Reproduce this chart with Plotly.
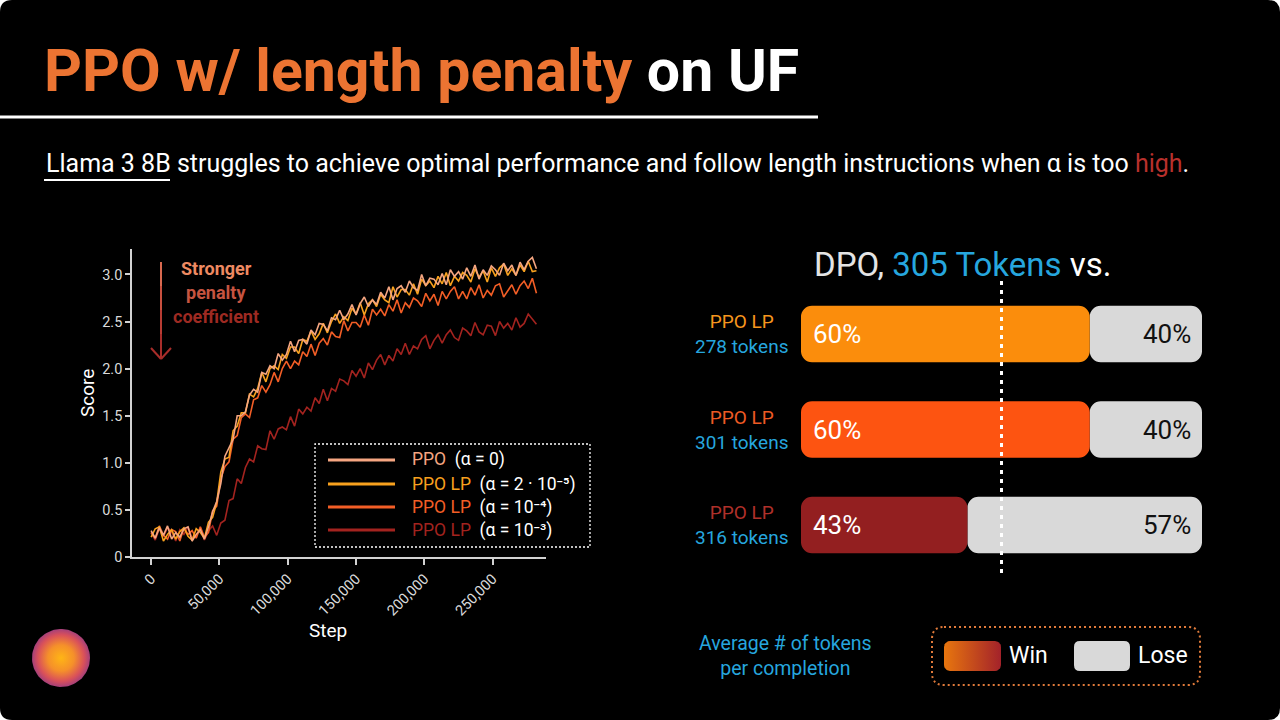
import math
import plotly.graph_objects as go

W, H = 1280, 720
FONT = "Roboto"

# ---------------- data: left line chart ----------------
STEP_INTERVAL = 3000
ppo = [0.28, 0.20, 0.31, 0.23, 0.33, 0.19, 0.26, 0.21, 0.30, 0.32, 0.17, 0.24, 0.29, 0.19,
       0.32, 0.48, 0.59, 0.78, 1.07, 1.16, 1.25, 1.50, 1.50, 1.54, 1.72, 1.78, 1.75, 1.96, 1.94, 2.03,
       2.00, 2.16, 2.09, 2.15, 2.29, 2.18, 2.30, 2.31, 2.26, 2.41, 2.36, 2.48, 2.47, 2.40, 2.54, 2.52,
       2.62, 2.52, 2.58, 2.68, 2.57, 2.69, 2.76, 2.66, 2.73, 2.68, 2.81, 2.75, 2.87, 2.73, 2.85, 2.88,
       2.81, 2.93, 2.86, 2.83, 3.00, 2.88, 2.96, 2.95, 2.89, 3.01, 2.89, 3.05, 2.98, 3.03, 2.95, 3.07,
       2.98, 3.10, 2.95, 3.05, 2.99, 3.09, 3.05, 2.99, 3.12, 3.04, 3.10, 2.99, 3.13, 3.05, 3.14, 3.18, 3.06]
lp_2e5 = [0.21, 0.30, 0.32, 0.17, 0.24, 0.29, 0.19, 0.27, 0.31, 0.22, 0.18, 0.30, 0.26, 0.20,
          0.37, 0.42, 0.58, 0.90, 1.04, 1.06, 1.34, 1.39, 1.53, 1.53, 1.73, 1.70, 1.79, 1.96, 1.86, 2.00,
          2.03, 1.99, 2.15, 2.11, 2.23, 2.23, 2.16, 2.31, 2.29, 2.40, 2.31, 2.37, 2.48, 2.38, 2.50, 2.58,
          2.48, 2.55, 2.51, 2.64, 2.58, 2.70, 2.57, 2.69, 2.73, 2.66, 2.79, 2.73, 2.70, 2.87, 2.76, 2.84,
          2.84, 2.78, 2.90, 2.79, 2.95, 2.88, 2.93, 2.86, 2.98, 2.90, 3.02, 2.88, 2.98, 2.93, 3.02, 2.99,
          2.92, 3.06, 2.97, 3.04, 2.92, 3.07, 2.98, 3.07, 3.11, 2.99, 3.06, 2.99, 3.10, 3.03, 3.14, 3.03, 3.04]
lp_1e4 = [0.26, 0.20, 0.33, 0.23, 0.19, 0.29, 0.27, 0.17, 0.31, 0.24, 0.28, 0.20, 0.32, 0.21,
          0.26, 0.49, 0.54, 0.83, 0.96, 1.01, 1.25, 1.29, 1.48, 1.52, 1.48, 1.67, 1.69, 1.82, 1.75, 1.83,
          1.96, 1.86, 2.00, 2.08, 2.00, 2.08, 2.04, 2.18, 2.13, 2.26, 2.14, 2.27, 2.32, 2.25, 2.39, 2.34,
          2.33, 2.51, 2.40, 2.49, 2.49, 2.44, 2.57, 2.46, 2.63, 2.57, 2.63, 2.56, 2.68, 2.61, 2.73, 2.59,
          2.70, 2.65, 2.75, 2.72, 2.66, 2.80, 2.72, 2.79, 2.67, 2.82, 2.74, 2.82, 2.87, 2.74, 2.82, 2.74,
          2.86, 2.78, 2.89, 2.75, 2.83, 2.78, 2.88, 2.90, 2.76, 2.83, 2.89, 2.79, 2.88, 2.93, 2.85, 2.96, 2.80]
lp_1e3 = [0.26, 0.18, 0.30, 0.22, 0.31, 0.27, 0.17, 0.29, 0.24, 0.32, 0.20, 0.23, 0.31, 0.18, 0.28, 0.33,
          0.23, 0.36, 0.39, 0.60, 0.62, 0.83, 0.78, 0.95, 1.04, 1.01, 1.18, 1.15, 1.14, 1.34, 1.25, 1.36,
          1.38, 1.35, 1.49, 1.39, 1.57, 1.52, 1.59, 1.55, 1.69, 1.63, 1.78, 1.66, 1.79, 1.76, 1.89, 1.87,
          1.83, 1.98, 1.92, 2.00, 1.90, 2.06, 1.99, 2.09, 2.15, 2.04, 2.14, 2.08, 2.21, 2.15, 2.27, 2.15,
          2.24, 2.21, 2.31, 2.35, 2.21, 2.30, 2.36, 2.27, 2.36, 2.41, 2.33, 2.30, 2.43, 2.40, 2.35, 2.49,
          2.39, 2.36, 2.46, 2.45, 2.35, 2.50, 2.43, 2.48, 2.41, 2.54, 2.44, 2.48, 2.58, 2.52, 2.47]

series_values = [ppo, lp_2e5, lp_1e4, lp_1e3]
series_names = ["PPO", "PPO LP", "PPO LP", "PPO LP"]
alpha_labels = ["(α = 0)", "(α = 2 · 10⁻⁵)", "(α = 10⁻⁴)", "(α = 10⁻³)"]
series_colors = ["#F5A681", "#F8A11E", "#F35E26", "#A3231F"]

x_tick_vals = [0, 50000, 100000, 150000, 200000, 250000]
x_tick_text = ["0", "50,000", "100,000", "150,000", "200,000", "250,000"]
y_tick_vals = [0, 0.5, 1.0, 1.5, 2.0, 2.5, 3.0]
y_tick_text = ["0", "0.5", "1.0", "1.5", "2.0", "2.5", "3.0"]

# ---------------- data: right bar chart ----------------
row_models = ["PPO LP", "PPO LP", "PPO LP"]
avg_tokens = [278, 301, 316]
win_pct_labels = [60, 60, 43]
lose_pct_labels = [40, 40, 57]
win_bar_extent = [72, 72, 41.5]          # win-segment length as drawn in the reference
row_colors = ["#FB8D0C", "#FD5411", "#931F20"]
row_label_colors = ["#F7961E", "#EE5A24", "#B0302A"]
dpo_tokens = 305
reference_line = 50
LOSE_COLOR = "#D9D9D9"
BLUE = "#26A6DE"


def paper(x, y):
    return x / W, 1 - y / H


def rr_path(x0, y0, x1, y1, r):
    def p(x, y):
        a, b = paper(x, y)
        return f"{a:.5f},{b:.5f}"
    return (f"M {p(x0 + r, y0)} L {p(x1 - r, y0)} Q {p(x1, y0)} {p(x1, y0 + r)} "
            f"L {p(x1, y1 - r)} Q {p(x1, y1)} {p(x1 - r, y1)} L {p(x0 + r, y1)} "
            f"Q {p(x0, y1)} {p(x0, y1 - r)} L {p(x0, y0 + r)} Q {p(x0, y0)} {p(x0 + r, y0)} Z")


def rr_points(x0, y0, x1, y1, r, n=10):
    xs, ys = [], []
    corners = [(x1 - r, y0 + r, -90, 0), (x1 - r, y1 - r, 0, 90),
               (x0 + r, y1 - r, 90, 180), (x0 + r, y0 + r, 180, 270)]
    for cx, cy, a0, a1 in corners:
        for k in range(n + 1):
            a = math.radians(a0 + (a1 - a0) * k / n)
            xs.append(cx + r * math.cos(a))
            ys.append(cy + r * math.sin(a))
    xs.append(xs[0]); ys.append(ys[0])
    return xs, ys


def ann(x, y, text, size, color, xanchor="center", yanchor="middle", bold=False, **kw):
    a, b = paper(x, y)
    d = dict(x=a, y=b, xref="paper", yref="paper", xanchor=xanchor, yanchor=yanchor,
             showarrow=False, text=f"<b>{text}</b>" if bold else text,
             font=dict(family=FONT, size=size, color=color))
    d.update(kw)
    return d


def pline(x0, y0, x1, y1, color, width, dash=None):
    a0, b0 = paper(x0, y0); a1, b1 = paper(x1, y1)
    ln = dict(color=color, width=width)
    if dash:
        ln["dash"] = dash
    return dict(type="line", xref="paper", yref="paper", x0=a0, y0=b0, x1=a1, y1=b1, line=ln)


fig = go.Figure()

# ---------------- left chart traces ----------------
for vals, name, alpha, col in reversed(list(zip(series_values, series_names, alpha_labels, series_colors))):
    steps = [i * STEP_INTERVAL for i in range(len(vals))]
    fig.add_trace(go.Scatter(x=steps, y=vals, mode="lines", name=name,
                             line=dict(color=col, width=1.6), xaxis="x", yaxis="y",
                             showlegend=False, hoverinfo="skip"))

# ---------------- right chart traces ----------------
rows = list(range(len(row_models)))
fig.add_trace(go.Bar(y=rows, x=[100 - w for w in win_bar_extent], base=win_bar_extent,
                     orientation="h", marker=dict(color=LOSE_COLOR, cornerradius=11, line=dict(width=0)),
                     width=0.59, xaxis="x2", yaxis="y2", showlegend=False, hoverinfo="skip"))
fig.add_trace(go.Bar(y=rows, x=[-w for w in win_bar_extent], base=win_bar_extent,
                     orientation="h", marker=dict(color=row_colors, cornerradius=11, line=dict(width=0)),
                     width=0.59, xaxis="x2", yaxis="y2", showlegend=False, hoverinfo="skip"))

# ---------------- decorations on a full-page pixel axis ----------------
sx, sy = rr_points(944, 641, 1001, 671, 6)
fig.add_trace(go.Scatter(x=sx, y=sy, mode="lines", fill="toself", line=dict(width=0),
                         fillgradient=dict(type="horizontal",
                                           colorscale=[[0, "#E8760E"], [1, "#A3222A"]]),
                         xaxis="x3", yaxis="y3", showlegend=False, hoverinfo="skip"))
cx, cy, cr = 61, 658, 29
ox = [cx + cr * math.cos(math.radians(a)) for a in range(0, 361, 4)]
oy = [cy + cr * math.sin(math.radians(a)) for a in range(0, 361, 4)]
fig.add_trace(go.Scatter(x=ox, y=oy, mode="lines", fill="toself", line=dict(width=0),
                         fillgradient=dict(type="radial",
                                           colorscale=[[0, "#FFB515"], [0.45, "#F5902A"],
                                                       [0.8, "#D9505A"], [1, "#A5407A"]]),
                         xaxis="x3", yaxis="y3", showlegend=False, hoverinfo="skip"))

shapes = []
annotations = []

# background rounded card
shapes.append(dict(type="path", path=rr_path(0, 0, W, H, 12), xref="paper", yref="paper",
                   fillcolor="black", line=dict(width=0), layer="below"))

# title + rule
annotations.append(ann(42, 71, "<b><span style='color:#EC7432'>PPO w/ length penalty</span> on UF</b>",
                       59, "white", xanchor="left"))
shapes.append(pline(0, 117, 818, 117, "white", 3))

# subtitle
annotations.append(ann(44, 164, ("Llama 3 8B struggles to achieve optimal performance and follow length "
                                 "instructions when α is too <span style='color:#B8302C'>high</span>."),
                       25, "white", xanchor="left"))
shapes.append(pline(44, 180, 170, 180, "white", 2))

# "Stronger penalty coefficient" arrow
arrow_cols = ["#D9694F", "#C9503F", "#B83C33", "#A82D2A"]
seg_y = [262, 286, 310, 334, 358]
for i, c in enumerate(arrow_cols):
    shapes.append(pline(161, seg_y[i], 161, seg_y[i + 1], c, 2))
for ex in (151, 171):
    shapes.append(pline(ex, 348, 161, 359, "#A82D2A", 2))
for txt, yy, col in [("Stronger", 268, "#EE8A62"), ("penalty", 292, "#C65440"),
                     ("coefficient", 316, "#9E2A22")]:
    annotations.append(ann(216, yy, txt, 18, col, bold=True))

# axis titles
annotations.append(ann(88, 393, "Score", 19, "white", textangle=-90))
annotations.append(ann(328, 630, "Step", 19, "white"))

# left legend
bx0, by0 = paper(315, 444); bx1, by1 = paper(590, 547)
shapes.append(dict(type="rect", xref="paper", yref="paper", x0=bx0, y0=by1, x1=bx1, y1=by0,
                   line=dict(color="white", width=1.3, dash="2px,2px")))
legend_rows_y = [460, 484, 507, 530]
for yy, name, alpha, col in zip(legend_rows_y, series_names, alpha_labels, series_colors):
    shapes.append(pline(328, yy, 395, yy, col, 3))
    annotations.append(ann(410, yy, f"<span style='color:{col}'>{name}</span>\u00a0\u00a0{alpha}",
                           17.5, "white", xanchor="left"))

# ---------------- right chart annotations ----------------
annotations.append(ann(962, 264, (f"<span style='color:#E4E4E4'>DPO,</span> "
                                  f"<span style='color:{BLUE}'>{dpo_tokens} Tokens</span> vs."),
                       33, "white"))
shapes.append(dict(type="line", xref="x2", yref="paper", x0=reference_line, x1=reference_line,
                   y0=1 - 573 / H, y1=1 - 280 / H, line=dict(color="white", width=3, dash="4px,5px")))
for r, model, tok, w, l, lc in zip(rows, row_models, avg_tokens, win_pct_labels, lose_pct_labels,
                                   row_label_colors):
    annotations.append(dict(x=0, y=r, xref="x2", yref="y2", xanchor="left", yanchor="middle", xshift=10,
                            showarrow=False, text=f"{w}%",
                            font=dict(family=FONT, size=26, color="white")))
    annotations.append(dict(x=100, y=r, xref="x2", yref="y2", xanchor="right", yanchor="middle", xshift=-9,
                            showarrow=False, text=f"{l}%",
                            font=dict(family=FONT, size=26, color="#111111")))
    annotations.append(dict(x=790 / W, y=r, xref="paper", yref="y2", xanchor="right", yanchor="middle",
                            showarrow=False, align="center",
                            text=f"<span style='color:{lc}'>{model}</span><br>{tok} tokens",
                            font=dict(family=FONT, size=19, color=BLUE)))

annotations.append(ann(785, 656, "Average # of tokens<br>per completion", 19.5, BLUE, align="center"))
shapes.append(dict(type="path", path=rr_path(932, 627, 1200, 685, 12), xref="paper", yref="paper",
                   line=dict(color="#E07A3A", width=2, dash="2px,3px")))
shapes.append(dict(type="path", path=rr_path(1074, 641, 1130, 671, 6), xref="paper", yref="paper",
                   fillcolor=LOSE_COLOR, line=dict(width=0)))
for txt, xx in [("Win", 1007), ("Lose", 1136)]:
    annotations.append(ann(xx, 655, txt, 23, "white", xanchor="left"))

axis_col = "#D2D2D2"
fig.update_layout(
    width=W, height=H, autosize=False, margin=dict(l=0, r=0, t=0, b=0, pad=0),
    paper_bgcolor="white", plot_bgcolor="rgba(0,0,0,0)",
    barmode="overlay", font=dict(family=FONT, color="white"),
    xaxis=dict(domain=[132 / W, 546 / W], range=[-14000, 289000], anchor="y",
               tickvals=x_tick_vals, ticktext=x_tick_text, tickangle=-45,
               ticks="outside", ticklen=6, tickwidth=1.5, tickcolor=axis_col,
               showline=True, linecolor=axis_col, linewidth=1.5,
               showgrid=False, zeroline=False, automargin=False,
               tickfont=dict(family=FONT, size=14.5, color="#DADADA")),
    yaxis=dict(domain=[1 - 557 / H, 1 - 249 / H], range=[0, 3.27], anchor="x",
               tickvals=y_tick_vals, ticktext=y_tick_text,
               ticks="outside", ticklen=5, tickwidth=1.5, tickcolor=axis_col,
               showline=True, linecolor=axis_col, linewidth=1.5,
               showgrid=False, zeroline=False, automargin=False,
               tickfont=dict(family=FONT, size=14.5, color="#DADADA")),
    xaxis2=dict(domain=[801 / W, 1202 / W], range=[0, 100], anchor="y2", visible=False, automargin=False),
    yaxis2=dict(domain=[0.2045, 0.6024], range=[2.5, -0.5], anchor="x2", visible=False, automargin=False),
    xaxis3=dict(domain=[0, 1], range=[0, W], anchor="y3", visible=False, automargin=False),
    yaxis3=dict(domain=[0, 1], range=[H, 0], anchor="x3", visible=False, automargin=False),
    shapes=shapes, annotations=annotations,
)

fig.write_html("out.html", config={"responsive": False},
               post_script="document.body.style.margin='0';")
